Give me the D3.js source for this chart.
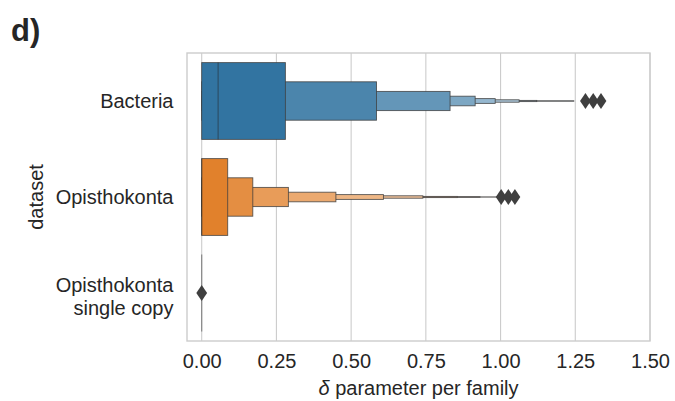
<!DOCTYPE html>
<html>
<head>
<meta charset="utf-8">
<script src="https://cdn.jsdelivr.net/npm/d3@7"></script>
<style>
  body { margin: 0; background: #fff; }
  text { font-family: "Liberation Sans", Arial, sans-serif; fill: #262626; }
</style>
</head>
<body>
<div id="chart"></div>
<script>
// letter-value (boxen) plot, one row per dataset

var categories = ["Bacteria", "Opisthokonta", "Opisthokonta\nsingle copy"];
var baseColors = ["#3274a1", "#e1812c", "#3a923a"];
var xTicks = [0, 0.25, 0.5, 0.75, 1.0, 1.25, 1.5];

// upper letter values, innermost box first (lower letter values are all 0)
var bacteriaUpper = [0.28, 0.585, 0.831, 0.915, 0.982, 1.062, 1.121, 1.245];
var opisthoUpper = [0.087, 0.171, 0.29, 0.449, 0.608, 0.74, 0.855, 0.931, 0.987];
var singleUpper = [0];

var medians = [0.055, 0, 0];

var bacteriaOutliers = [1.284, 1.31, 1.336];
var opisthoOutliers = [1.002, 1.026, 1.048];
var singleOutliers = [0];

var uppers = [bacteriaUpper, opisthoUpper, singleUpper];
var outliers = [bacteriaOutliers, opisthoOutliers, singleOutliers];

var width = 675,
    height = 401;

var svg = d3.select("#chart")
    .append("svg")
    .attr("width", width)
    .attr("height", height);

var xScale = d3.scaleLinear()
    .domain([-0.0492, 1.5])
    .range([187, 650]);

var yScale = d3.scaleBand()
    .domain(categories)
    .range([53, 341]);

var yTop = yScale.range()[0], yBottom = yScale.range()[1];

// vertical grid
svg.append("g")
    .selectAll("line")
    .data(xTicks)
    .enter().append("line")
    .attr("x1", function(d){ return xScale(d); })
    .attr("x2", function(d){ return xScale(d); })
    .attr("y1", yTop)
    .attr("y2", yBottom)
    .attr("stroke", "#cccccc")
    .attr("stroke-width", 1.1);

// boxes
categories.forEach(function(cat, ci) {
    var ups = uppers[ci];
    var n = ups.length;
    var cy = yScale(cat) + yScale.bandwidth() / 2;
    var fullH = yScale.bandwidth() * 0.8;
    var light = d3.interpolateRgb(baseColors[ci], "#ffffff")(0.85);
    var cmap = d3.interpolateRgb(baseColors[ci], light);
    var g = svg.append("g");

    // outer boxes first so inner ones sit on top
    for (var i = n - 1; i >= 0; i--) {
        var h = fullH / Math.pow(2, i);
        g.append("rect")
            .attr("x", xScale(0))
            .attr("y", cy - h / 2)
            .attr("width", xScale(ups[i]) - xScale(0))
            .attr("height", h)
            .attr("fill", n > 1 ? cmap(i / (n - 1)) : cmap(1))
            .attr("stroke", "#3f3f3f")
            .attr("stroke-opacity", 0.85)
            .attr("stroke-width", 0.9);
    }

    g.append("line")
        .attr("x1", xScale(medians[ci]))
        .attr("x2", xScale(medians[ci]))
        .attr("y1", cy - fullH / 2)
        .attr("y2", cy + fullH / 2)
        .attr("stroke", "#262626")
        .attr("stroke-opacity", 0.45)
        .attr("stroke-width", 1.2);

    g.selectAll("path.outlier")
        .data(outliers[ci])
        .enter().append("path")
        .attr("class", "outlier")
        .attr("d", "M0,-8L5.4,0L0,8L-5.4,0Z")
        .attr("transform", function(d){ return "translate(" + xScale(d) + "," + cy + ")"; })
        .attr("fill", "#3f3f3f");
});

// frame
svg.append("rect")
    .attr("x", xScale.range()[0])
    .attr("y", yTop)
    .attr("width", xScale.range()[1] - xScale.range()[0])
    .attr("height", yBottom - yTop)
    .attr("fill", "none")
    .attr("stroke", "#cccccc")
    .attr("stroke-width", 1.4);

// x axis
var xAxis = d3.axisBottom(xScale)
    .tickValues(xTicks)
    .tickFormat(d3.format(".2f"))
    .tickSize(0)
    .tickPadding(12.3);

var gx = svg.append("g")
    .attr("transform", "translate(0," + yBottom + ")")
    .attr("class", "xAxis")
    .call(xAxis);
gx.select(".domain").remove();
gx.selectAll("text")
    .attr("font-size", 20)
    .attr("font-family", "Liberation Sans, Arial, sans-serif")
    .attr("fill", "#262626");

// y tick labels (multi-line)
var fs = 20, lineH = 23.5;
categories.forEach(function(cat) {
    var lines = cat.split("\n");
    var cy = yScale(cat) + yScale.bandwidth() / 2;
    var first = cy + 0.35 * fs - (lines.length - 1) * 0.35 * lineH;
    var t = svg.append("text")
        .attr("text-anchor", "end")
        .attr("font-size", fs);
    lines.forEach(function(l, i) {
        t.append("tspan")
            .attr("x", 173.5)
            .attr("y", first + i * lineH)
            .text(l);
    });
});

// axis titles
var xl = svg.append("text")
    .attr("x", (xScale.range()[0] + xScale.range()[1]) / 2)
    .attr("y", 394.5)
    .attr("text-anchor", "middle")
    .attr("font-size", 20);
xl.append("tspan").attr("font-style", "italic").text("δ");
xl.append("tspan").text(" parameter per family");

svg.append("text")
    .attr("transform", "translate(43,197) rotate(-90)")
    .attr("text-anchor", "middle")
    .attr("font-size", 20)
    .text("dataset");

svg.append("text")
    .attr("x", 11)
    .attr("y", 41)
    .attr("font-size", 31)
    .attr("font-weight", "bold")
    .attr("fill", "#000")
    .text("d)");
</script>
</body>
</html>
